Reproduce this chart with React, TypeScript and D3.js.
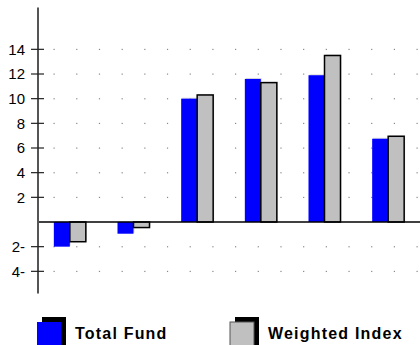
import React from "react";
import * as d3 from "d3";

const categories = ["P1", "P2", "P3", "P4", "P5", "P6"];
const totalFund = [-2.0, -0.95, 10.0, 11.6, 11.9, 6.75];
const weightedIndex = [-1.6, -0.45, 10.3, 11.3, 13.5, 6.95];
const tickValues = [14, 12, 10, 8, 6, 4, 2, -2, -4];
const tickLabels = ["14", "12", "10", "8", "6", "4", "2", "2-", "4-"];
const seriesNames = ["Total Fund", "Weighted Index"];
const seriesColors = ["#0000FF", "#C0C0C0"];

const W = 420;
const H = 345;
const axisX = 38;

export default function App() {
  const y = d3.scaleLinear().domain([-6, 18]).range([296, 0]);
  const x0 = d3.scaleBand<string>().domain(categories).range([axisX, W]);
  const barW = 16;
  const dotX = d3.scaleLinear().domain([0, 16]).range([54, 417]);
  const dotCols = d3.range(17);
  const font = "'Liberation Sans', Arial, sans-serif";

  return (
    <svg width={W} height={H} style={{ position: "absolute", left: 0, top: 0, background: "#fff" }}>
      {/* dot grid */}
      {tickValues.map((t) =>
        dotCols.map((c) => (
          <rect key={`d${t}-${c}`} x={dotX(c) - 0.5} y={y(t) - 0.5} width={1.2} height={1.2} fill="#888" />
        ))
      )}
      {/* bars */}
      {categories.map((cat, i) => {
        const cx = (x0(cat) as number) + x0.bandwidth() / 2;
        const vals = [totalFund[i], weightedIndex[i]];
        return (
          <g key={cat}>
            {vals.map((v, j) => {
              const bx = cx - barW + j * barW;
              const top = Math.min(y(v), y(0));
              const h = Math.abs(y(v) - y(0));
              return (
                <g key={j}>
                  <rect x={bx + 1} y={top - 1} width={barW} height={h} fill="#c8c8c8" opacity={0.6} />
                  <rect
                    x={bx}
                    y={top}
                    width={barW}
                    height={h}
                    fill={seriesColors[j]}
                    stroke={j === 1 ? "#000" : "none"}
                    strokeWidth={j === 1 ? 1.5 : 0}
                  />
                </g>
              );
            })}
          </g>
        );
      })}
      {/* zero line */}
      <line x1={axisX} x2={W} y1={y(0)} y2={y(0)} stroke="#000" strokeWidth={1.5} />
      {/* y axis */}
      <line x1={axisX} x2={axisX} y1={y(17.4)} y2={y(-5.8)} stroke="#555" strokeWidth={2} />
      {tickValues.map((t, i) => (
        <g key={`t${t}`}>
          <line x1={axisX - 7} x2={axisX + 6} y1={y(t)} y2={y(t)} stroke="#222" strokeWidth={1.2} />
          <text
            x={25}
            y={y(t)}
            dy="0.36em"
            textAnchor="end"
            fontFamily={font}
            fontSize={15}
            fill="#000"
          >
            {tickLabels[i]}
          </text>
        </g>
      ))}
      {/* legend */}
      {seriesNames.map((name, j) => {
        const lx = 37 + j * 193;
        const ly = 322;
        return (
          <g key={name}>
            <rect x={lx + 5} y={ly - 5} width={24} height={28} fill="#000" />
            <rect
              x={lx}
              y={ly}
              width={24}
              height={28}
              fill={seriesColors[j]}
              stroke={j === 1 ? "#555" : "none"}
              strokeWidth={1}
            />
            <text
              x={lx + 38}
              y={339}
              fontFamily={font}
              fontWeight="bold"
              fontSize={16}
              letterSpacing={1.2}
              fill="#000"
            >
              {name}
            </text>
          </g>
        );
      })}
    </svg>
  );
}
